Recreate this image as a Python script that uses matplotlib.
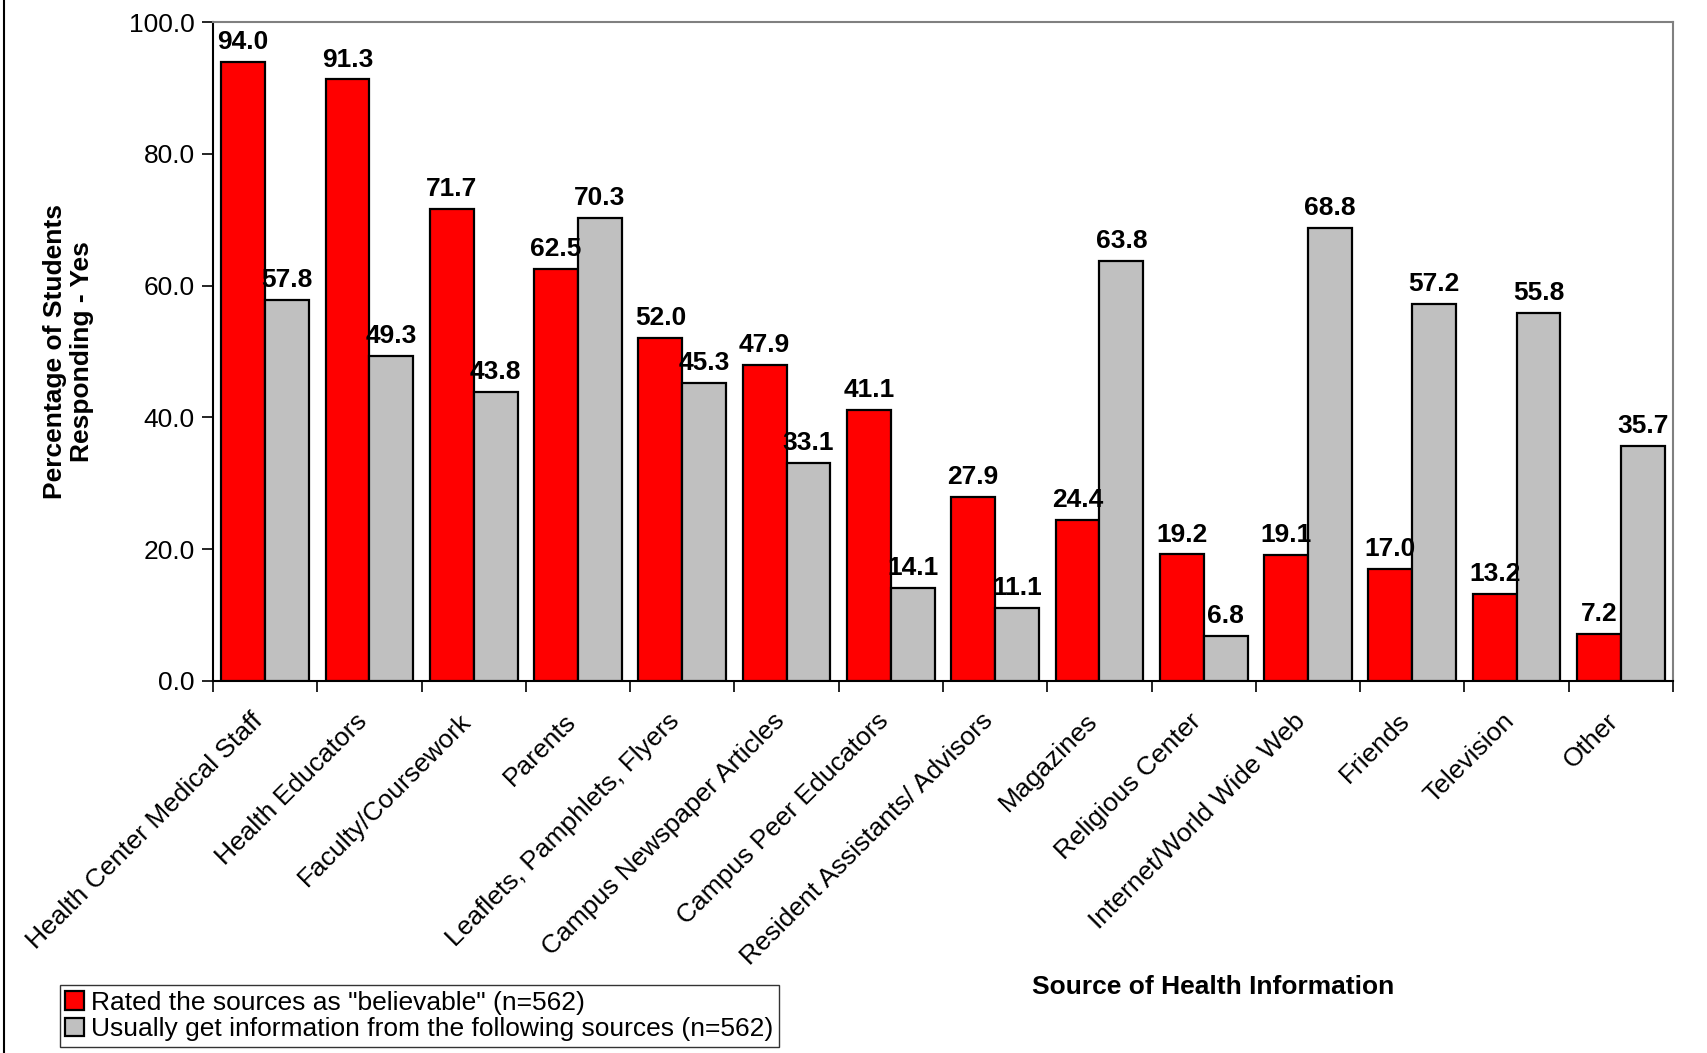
import numpy as np
import matplotlib
matplotlib.use("Agg")
from matplotlib import pyplot as plt
from matplotlib.lines import Line2D

sources = ["Health Center Medical Staff", "Health Educators", "Faculty/Coursework",
           "Parents", "Leaflets, Pamphlets, Flyers", "Campus Newspaper Articles",
           "Campus Peer Educators", "Resident Assistants/ Advisors", "Magazines",
           "Religious Center", "Internet/World Wide Web", "Friends", "Television", "Other"]
believable = [94.0, 91.3, 71.7, 62.5, 52.0, 47.9, 41.1, 27.9, 24.4, 19.2, 19.1, 17.0, 13.2, 7.2]
usually_get = [57.8, 49.3, 43.8, 70.3, 45.3, 33.1, 14.1, 11.1, 63.8, 6.8, 68.8, 57.2, 55.8, 35.7]
yticks = [0, 20, 40, 60, 80, 100]

plt.rcParams['font.family'] = ['Liberation Sans', 'DejaVu Sans']
fs = 19

fig = plt.figure(figsize=(17.08, 10.53), dpi=100)
ax = fig.add_axes([0.1247, 0.3533, 0.8548, 0.6257])

x = np.arange(len(sources))
w = 0.42
ax.bar(x - w / 2, believable, w, color='#ff0000', edgecolor='black', linewidth=1.6,
       label='Rated the sources as "believable" (n=562)', zorder=3)
ax.bar(x + w / 2, usually_get, w, color='#c0c0c0', edgecolor='black', linewidth=1.6,
       label='Usually get information from the following sources (n=562)', zorder=3)

# value labels
for xi, v in zip(x - w / 2, believable):
    ax.text(xi, v + 1.2, f"{v:.1f}", ha='center', va='bottom', fontsize=fs, fontweight='bold')
for xi, v in zip(x + w / 2, usually_get):
    ax.text(xi, v + 1.2, f"{v:.1f}", ha='center', va='bottom', fontsize=fs, fontweight='bold')

ax.set_xlim(-0.5, len(sources) - 0.5)
ax.set_ylim(0, 100)
ax.set_yticks(yticks)
ax.set_yticklabels([f"{t:.1f}" for t in yticks], fontsize=fs)

# category ticks sit between groups, labels at centers
ax.set_xticks(np.arange(len(sources) + 1) - 0.5)
ax.set_xticklabels([])
ax.set_xticks(x - 0.14, minor=True)
ax.set_xticklabels(sources, minor=True, rotation=45, ha='right', rotation_mode='anchor', fontsize=fs)
ax.tick_params(axis='x', which='minor', length=0, pad=20)
ax.tick_params(axis='x', which='major', direction='out', length=8, width=1.2)
ax.tick_params(axis='y', direction='out', length=8, width=1.2, pad=5)

for s in ['top', 'right']:
    ax.spines[s].set_color('#808080')
    ax.spines[s].set_linewidth(1.5)
for s in ['left', 'bottom']:
    ax.spines[s].set_color('black')
    ax.spines[s].set_linewidth(1.5)

ax.set_ylabel("Percentage of Students\nResponding - Yes", fontsize=fs, fontweight='bold', labelpad=25)
fig.text(0.71, 0.063, "Source of Health Information", fontsize=fs, fontweight='bold', ha='center', va='center')

leg = fig.legend(loc='lower left', bbox_to_anchor=(0.035, 0.006), fontsize=fs, frameon=True,
                 fancybox=False, edgecolor='black', handlelength=0.7, handleheight=0.7,
                 handletextpad=0.3, borderpad=0.2, labelspacing=0.1, borderaxespad=0)
leg.get_frame().set_linewidth(1.0)

# figure border on the left
fig.add_artist(Line2D([0.0025, 0.0025], [0, 1], color='black', linewidth=1.5, transform=fig.transFigure))

plt.savefig("out.png", dpi=100)
